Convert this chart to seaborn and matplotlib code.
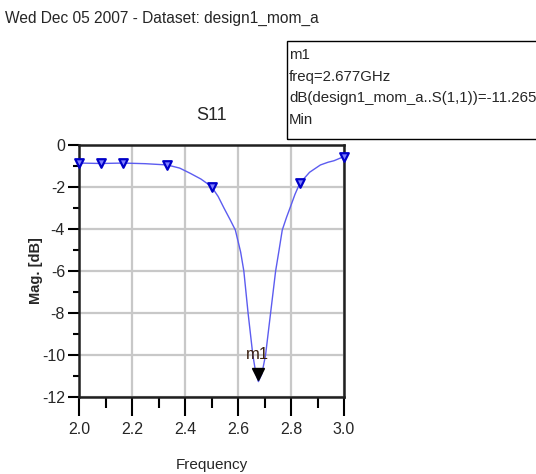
import matplotlib
matplotlib.use("Agg")
import matplotlib.pyplot as plt
import seaborn as sns
import pandas as pd
from matplotlib.patches import Rectangle
from matplotlib.ticker import MultipleLocator

# curve values
freq = [2.0, 2.083, 2.167, 2.25, 2.333, 2.38, 2.42, 2.46, 2.5, 2.525, 2.547, 2.57, 2.59,
        2.61, 2.622, 2.638, 2.656, 2.667, 2.677, 2.69, 2.704, 2.723, 2.742, 2.755, 2.767,
        2.783, 2.798, 2.815, 2.833, 2.87, 2.911, 2.94, 2.962, 3.0]
mag_db = [-0.86, -0.88, -0.86, -0.89, -0.95, -1.1, -1.35, -1.62, -1.98, -2.45, -3.0, -3.55,
          -4.05, -5.1, -6.0, -8.0, -10.0, -10.85, -11.265, -10.9, -10.0, -8.0, -6.0, -5.0,
          -4.05, -3.45, -2.94, -2.35, -1.83, -1.3, -0.95, -0.82, -0.75, -0.55]

# sampled points carrying markers
mk_freq = [2.0, 2.083, 2.167, 2.333, 2.5, 2.833, 3.0]
mk_db = [-0.86, -0.88, -0.86, -0.95, -1.98, -1.83, -0.55]

# marker m1
m1_freq = 2.677
m1_db = -11.265

title_text = "Wed Dec 05 2007 - Dataset: design1_mom_a"
box_lines = ["m1", "freq=2.677GHz", "dB(design1_mom_a..S(1,1))=-11.265", "Min"]

sns.set_theme(style="white")
plt.rcParams['font.family'] = ['Liberation Sans', 'DejaVu Sans']

fig = plt.figure(figsize=(5.36, 4.74), dpi=100)
ax = fig.add_axes([79/536, 1-397/474, 265/536, 252/474])

df = pd.DataFrame({"freq": freq, "db": mag_db})
mk = pd.DataFrame({"freq": mk_freq, "db": mk_db})

sns.lineplot(data=df, x="freq", y="db", ax=ax, color="#5c5cf0", linewidth=1.0, zorder=3)
sns.scatterplot(data=mk, x="freq", y="db", ax=ax, marker="v", s=38,
                facecolor="#8080ff", edgecolor="#0000c8", linewidth=1.6, zorder=4,
                clip_on=False)
ax.plot([m1_freq], [m1_db + 0.36], marker="v", markersize=9, color="black", zorder=5,
        clip_on=False)
ax.text(m1_freq - 0.005, m1_db + 0.95, "m1", ha="center", va="bottom", fontsize=12,
        color="#3a2010", zorder=6)

ax.set_xlim(2.0, 3.0)
ax.set_ylim(-12, 0)
ax.xaxis.set_major_locator(MultipleLocator(0.2))
ax.xaxis.set_minor_locator(MultipleLocator(0.1))
ax.yaxis.set_major_locator(MultipleLocator(2))
ax.yaxis.set_minor_locator(MultipleLocator(1))
ax.set_xticks(ax.get_xticks())
ax.set_xticklabels([f"{v:.1f}" for v in ax.get_xticks()])
ax.set_yticks(ax.get_yticks())
ax.set_yticklabels([f"{int(round(v))}" for v in ax.get_yticks()])
ax.set_xlim(2.0, 3.0)
ax.set_ylim(-12, 0)
ax.grid(True, which="major", color="#c8c8c8", linewidth=1.6)
ax.tick_params(axis="both", which="both", direction="out", color="black",
               labelsize=11.5, left=True, bottom=True)
ax.tick_params(axis="x", which="major", length=14, width=1.5, pad=4)
ax.tick_params(axis="x", which="minor", length=8, width=1.5)
ax.tick_params(axis="y", which="major", length=8, width=1.5, pad=2)
ax.tick_params(axis="y", which="minor", length=4, width=1.5)
for side, sp in ax.spines.items():
    sp.set_color("#202020")
    sp.set_linewidth(1.8)

ax.set_xlabel("Frequency", fontsize=11, va="center")
ax.xaxis.set_label_coords(0.5, (397 - 465) / 252)
ax.set_ylabel("Mag. [dB]", fontsize=10.5, fontweight="bold", va="center")
ax.yaxis.set_label_coords((36 - 79) / 265, 0.5)
ax.set_title("S11", fontsize=13, pad=18)

fig.text(5/536, 1-18/474, title_text, fontsize=11.2, va="center", ha="left")

fig.patches.append(Rectangle((287/536, 1-139/474), 0.6, 98/474, transform=fig.transFigure,
                             fill=False, edgecolor="black", linewidth=1.0))
for i, line in enumerate(box_lines):
    fig.text(289/536, 1-(55 + 21.5*i)/474, line, fontsize=10.8, va="center", ha="left")

fig.savefig("out.png", dpi=100)
